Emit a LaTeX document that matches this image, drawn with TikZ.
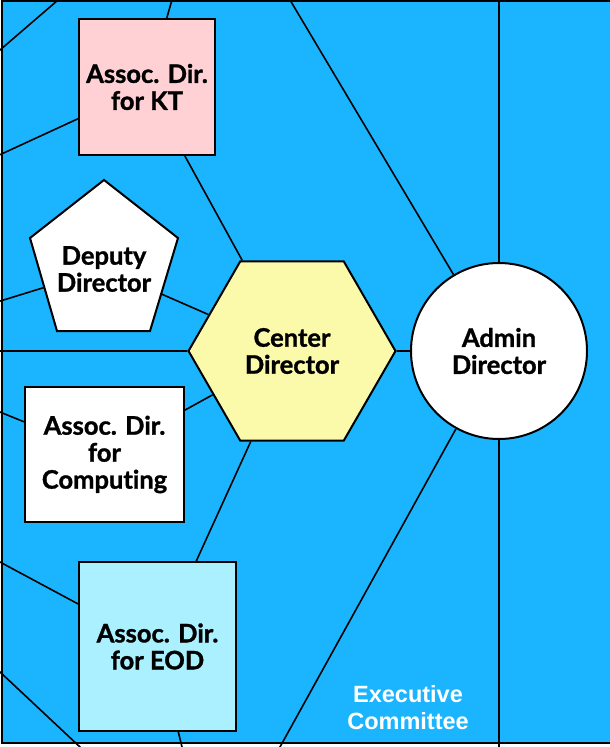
\documentclass[tikz,border=0pt]{standalone}
\usepackage{fontspec}
\setmainfont{Lato}[Ligatures=NoCommon,BoldFeatures={FakeBold=1.2}]
\setsansfont{Liberation Sans}
\usetikzlibrary{shapes.geometric}
\pgfdeclarelayer{bg}
\pgfsetlayers{bg,main}
\definecolor{bgblue}{RGB}{27,181,255}
\definecolor{ktpink}{RGB}{255,209,212}
\definecolor{hexyellow}{RGB}{250,250,170}
\definecolor{eodcyan}{RGB}{170,240,255}
\begin{document}
\begin{tikzpicture}[x=1pt,y=-1pt,
  conn/.style={line width=1.6pt},
  lbl/.style={font=\bfseries\fontsize{25.5}{27}\selectfont, align=center},
  shp/.style={lbl, draw, line width=2pt, inner sep=0pt}]
\useasboundingbox (0,0) rectangle (610,747);
\clip (0,0) rectangle (610,747);
% nodes
\node[shp, fill=ktpink, minimum width=136pt, minimum height=136pt] (kt) at (147,87) {Assoc. Dir.\\for KT};
\draw[line width=2pt, fill=white] (104,180) -- (178,238) -- (150,331) -- (57,331) -- (30,238) -- cycle;
\node[lbl] (dep) at (104,269) {Deputy\\Director};
\node[shp, regular polygon, regular polygon sides=6, minimum size=207pt, fill=hexyellow] (cen) at (292,351) {Center\\Director};
\node[shp, circle, minimum size=176pt, fill=white] (adm) at (499,351) {Admin\\Director};
\node[shp, fill=white, minimum width=159pt, minimum height=135pt] (comp) at (104.5,454.5) {Assoc. Dir.\\for\\Computing};
\node[shp, fill=eodcyan, minimum width=157pt, minimum height=169pt] (eod) at (157.5,646.5) {Assoc. Dir.\\for EOD};
\node[text=white, font=\sffamily\bfseries\fontsize{23.5}{27}\selectfont, align=center] (exec) at (408,708) {Executive\\Committee};
% free ends
\coordinate (a1) at (-10,58.6);
\coordinate (a2) at (70,-10.3);
\coordinate (b1) at (-20,163.9);
\coordinate (c1) at (177.7,-20);
\coordinate (d1) at (278.1,-20);
\coordinate (e1) at (499,-20);
\coordinate (e2) at (499,767);
\coordinate (f1) at (-20,307.3);
\coordinate (g1) at (-20,351);
\coordinate (h1) at (-20,403.9);
\coordinate (i1) at (-20,551.3);
\coordinate (j1) at (-10,662.6);
\coordinate (j2) at (90,756.4);
\coordinate (k1) at (186.9,767);
\coordinate (m1) at (268.9,767);
\begin{pgfonlayer}{bg}
\fill[white] (0,0) rectangle (610,747);
\fill[bgblue] (2,1) rectangle (640,743);
\draw[line width=1.6pt] (640,1) -- (2,1) -- (2,743) -- (640,743);
\draw[conn] (a1) -- (a2);
\draw[conn] (kt) -- (b1);
\draw[conn] (kt) -- (c1);
\draw[conn] (kt) -- (cen);
\draw[conn] (adm) -- (d1);
\draw[conn] (adm) -- (e1);
\draw[conn] (adm) -- (e2);
\draw[conn] (dep) -- (f1);
\draw[conn] (dep) -- (cen);
\draw[conn] (cen) -- (g1);
\draw[conn] (comp) -- (h1);
\draw[conn] (comp) -- (cen);
\draw[conn] (cen) -- (eod);
\draw[conn] (eod) -- (i1);
\draw[conn] (j1) -- (j2);
\draw[conn] (eod) -- (k1);
\draw[conn] (adm) -- (m1);
\draw[conn] (cen) -- (adm);
\end{pgfonlayer}
\end{tikzpicture}
\end{document}
